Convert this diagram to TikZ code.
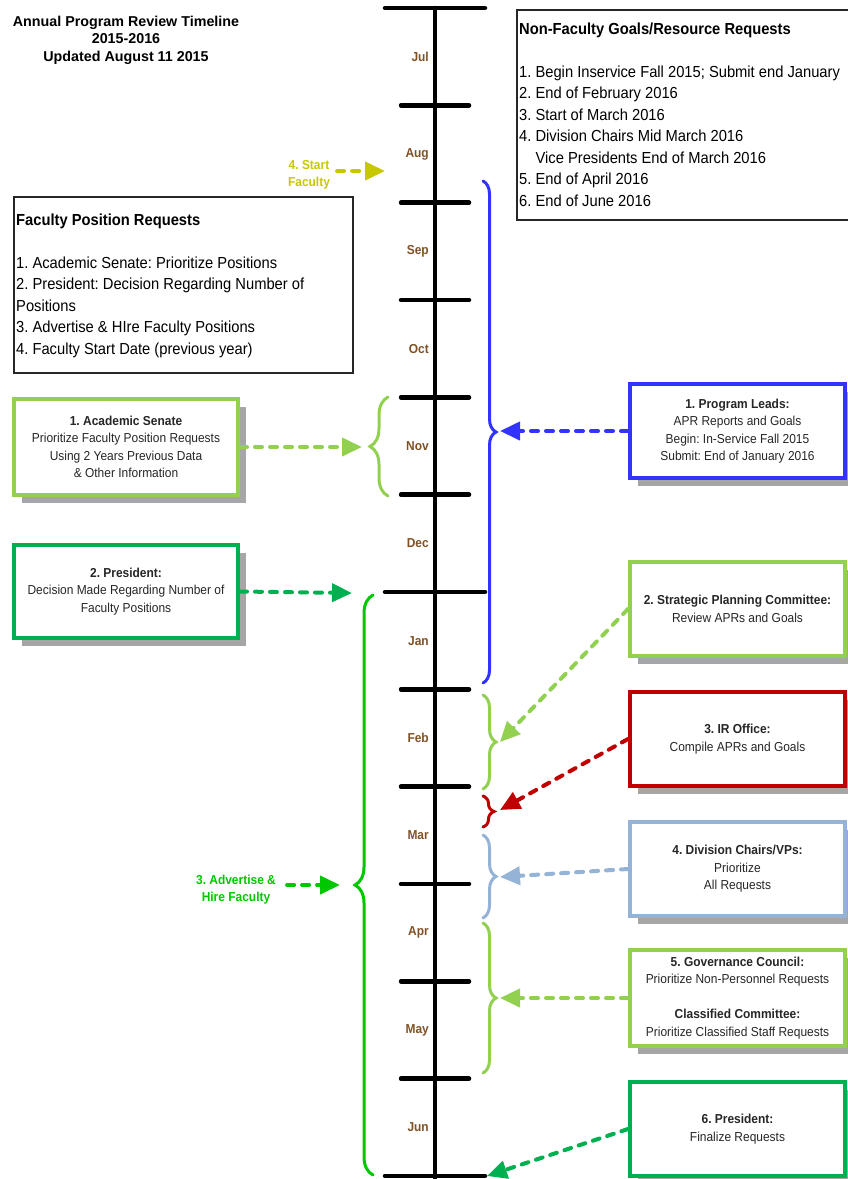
\documentclass[tikz,border=0pt]{standalone}
\usepackage{fontspec}
\setmainfont{Liberation Sans}
\newfontfamily\narrowfont[FakeStretch=0.92]{Liberation Sans}
\usetikzlibrary{arrows.meta,decorations.pathreplacing,shadows}

\definecolor{monthbrown}{HTML}{7F5226}
\definecolor{leafgreen}{HTML}{92D050}
\definecolor{darkgreen}{HTML}{00B050}
\definecolor{hiregreen}{HTML}{00C800}
\definecolor{leadblue}{HTML}{3333FF}
\definecolor{irred}{HTML}{C00000}
\definecolor{chairblue}{HTML}{95B3D7}
\definecolor{startyellow}{HTML}{C8C800}
\definecolor{shadowgray}{HTML}{A6A6A6}
\definecolor{framegray}{HTML}{262626}

\begin{document}
\frenchspacing
\begin{tikzpicture}[x=1pt,y=-1pt,>=stealth]

\tikzset{%
titletext/.style={
align=center,
font=\bfseries\fontsize{14.3}{17.5}\selectfont
},
month/.style={
anchor=east,
inner sep=0pt,
text=monthbrown,
font=\narrowfont\bfseries\fontsize{13}{15}\selectfont
},
tick/.style={
line width=4.5pt,
line cap=round
},
listbox/.style={
draw=framegray,
line width=2pt,
anchor=north west
},
listtext/.style={
anchor=north west,
align=left,
inner sep=0pt,
font=\narrowfont\fontsize{16}{21.5}\selectfont
},
stagebox/.style={
draw=#1,
line width=4pt,
fill=white,
text=black!85,
align=center,
minimum width=224pt,
minimum height=94pt,
font=\narrowfont\fontsize{13}{17.5}\selectfont,
drop shadow={shadow xshift=8pt, shadow yshift=-8pt, fill=shadowgray, opacity=1}
},
stage right/.style={
stagebox=#1,
minimum width=215pt
},
sidenote/.style={
align=center,
inner sep=1pt,
text=#1,
font=\narrowfont\bfseries\fontsize{13}{17}\selectfont
},
curly/.style={
draw=#1,
line width=3pt,
line cap=round,
decorate
},
flow/.style={
draw=#1,
line width=4pt,
line cap=round,
dash pattern=on 7pt off 8pt,
-{Triangle[length=20pt,width=18pt,fill=#1]}
},
}

% Page size of the original picture
\useasboundingbox (0,0) rectangle (847,1179);

% Title
\node[titletext] (title) at (126,40) {Annual Program Review Timeline\\2015-2016\\Updated August 11 2015};

% Time line and month ticks
\draw[tick] (435,8) -- (435,1185);
\foreach \i in {1,...,5,7,8,9,10,11}
\draw[tick] (401,{8+97.33*\i}) -- (469,{8+97.33*\i});
\foreach \i in {0,6,12}
\draw[tick] (385,{8+97.33*\i}) -- (485,{8+97.33*\i});

% Month labels
\foreach \m [count=\i] in {Jul,Aug,Sep,Oct,Nov,Dec,Jan,Feb,Mar,Apr,May,Jun}
\node[month] (month-\m) at (429,{8+97.33*(\i-0.5)}) {\m};

% Summary boxes
\node[listbox, minimum width=350pt, minimum height=210pt] (nonfacbox) at (516,9) {};
\node[listtext] (nonfac) at (519,22.5) {\textbf{Non-Faculty Goals/Resource Requests}\\[21.5pt]
1. Begin Inservice Fall 2015; Submit end January\\
2. End of February 2016\\
3. Start of March 2016\\
4. Division Chairs Mid March 2016\\
\hspace*{16.4pt}Vice Presidents End of March 2016\\
5. End of April 2016\\
6. End of June 2016};

\node[listbox, minimum width=339pt, minimum height=176pt] (facbox) at (13,196) {};
\node[listtext] (fac) at (16,213.5) {\textbf{Faculty Position Requests}\\[21.5pt]
1. Academic Senate: Prioritize Positions\\
2. President: Decision Regarding Number of\\
Positions\\
3. Advertise \& HIre Faculty Positions\\
4. Faculty Start Date (previous year)};

% Faculty steps (left side)
\node[stagebox=leafgreen, minimum height=96pt] (senate) at (126,447) {\textbf{1. Academic Senate}\\Prioritize Faculty Position Requests\\Using 2 Years Previous Data\\\& Other Information};
\node[stagebox=darkgreen, minimum height=93pt] (president) at (126,591.5) {\textbf{2. President:}\\Decision Made Regarding Number of\\Faculty Positions};
\node[sidenote=startyellow] (starttext) at (309,175) {4. Start\\Faculty};
\node[sidenote=hiregreen] (hiretext) at (236,889.5) {3. Advertise \&\\Hire Faculty};

% Non-faculty steps (right side)
\node[stage right=leadblue] (leads) at (737.5,431) {\textbf{1. Program Leads:}\\APR Reports and Goals\\Begin: In-Service Fall 2015\\Submit: End of January 2016};
\node[stage right=leafgreen] (strategic) at (737.5,609) {\textbf{2. Strategic Planning Committee:}\\Review APRs and Goals};
\node[stage right=irred] (iroffice) at (737.5,739) {\textbf{3. IR Office:}\\Compile APRs and Goals};
\node[stage right=chairblue] (chairs) at (737.5,869) {\textbf{4. Division Chairs/VPs:}\\Prioritize\\All Requests};
\node[stage right=leafgreen, minimum height=96pt] (council) at (737.5,998) {\textbf{5. Governance Council:}\\Prioritize Non-Personnel Requests\\[17.5pt]\textbf{Classified Committee:}\\Prioritize Classified Staff Requests};
\node[stage right=darkgreen] (finalpres) at (737.5,1129) {\textbf{6. President:}\\Finalize Requests};

% Braces marking the periods
\draw[curly=leadblue, decoration={brace,amplitude=13pt}] (483,181) -- (483,683);
\draw[curly=leafgreen, decoration={brace,amplitude=13pt}] (483,695) -- (483,789);
\draw[curly=irred, decoration={brace,amplitude=11pt}] (483,796) -- (483,827);
\draw[curly=chairblue, decoration={brace,amplitude=13pt}] (483,835) -- (483,918);
\draw[curly=leafgreen, decoration={brace,amplitude=13pt}] (483,923) -- (483,1073);
\draw[curly=leafgreen, decoration={brace,amplitude=18pt}] (388,496) -- (388,397);
\draw[curly=hiregreen, decoration={brace,amplitude=18pt}] (373,1175) -- (373,595);

% Arrow targets
\coordinate (leadstip) at (500,431);
\coordinate (febtip) at (500,742);
\coordinate (martip) at (500,810);
\coordinate (chairstip) at (500,877);
\coordinate (counciltip) at (500,998);
\coordinate (juneend) at (487,1176);
\coordinate (novtip) at (362,447);
\coordinate (jantip) at (352,593);
\coordinate (hiretip) at (340,885);
\coordinate (augtip) at (385,171);

% Arrows
\draw[flow=leadblue] (leads.west) -- (leadstip);
\draw[flow=leafgreen] (strategic.west) -- (febtip);
\draw[flow=irred] (iroffice.west) -- (martip);
\draw[flow=chairblue] (chairs.west) -- (chairstip);
\draw[flow=leafgreen] (council.west) -- (counciltip);
\draw[flow=darkgreen] (finalpres.west) -- (juneend);
\draw[flow=leafgreen] (senate.east) -- (novtip);
\draw[flow=darkgreen] (president.east) -- (jantip);
\draw[flow=hiregreen] ([xshift=10pt]hiretext.east |- hiretip) -- (hiretip);
\draw[flow=startyellow] ([xshift=6pt]starttext.east |- augtip) -- (augtip);

\end{tikzpicture}
\end{document}
